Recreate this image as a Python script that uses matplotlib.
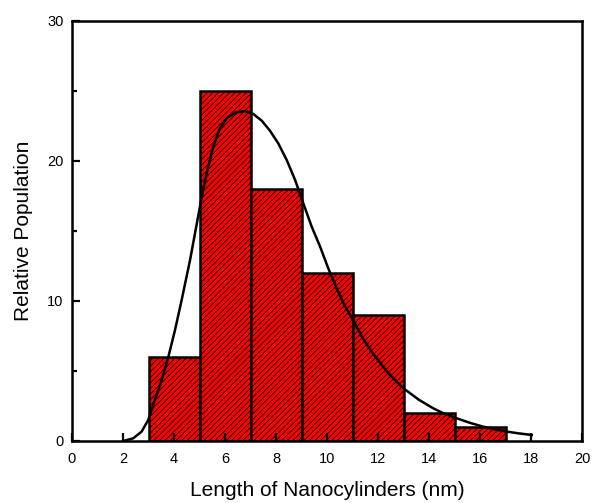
import matplotlib
matplotlib.use("Agg")
import matplotlib.pyplot as plt
from matplotlib.ticker import MultipleLocator

plt.rcParams['font.family'] = ['Liberation Sans', 'DejaVu Sans']
plt.rcParams['hatch.linewidth'] = 0.6

# Histogram data
bin_left = [3, 5, 7, 9, 11, 13, 15]
bin_width = 2
counts = [6, 25, 18, 12, 9, 2, 1]

# Fitted distribution curve
curve_x = [2.01, 2.4, 2.73, 2.99, 3.25, 3.52, 3.78, 4.04, 4.30, 4.63, 4.82,
           5.09, 5.28, 5.54, 5.80, 6.07, 6.39, 6.78, 7.11, 7.44, 7.76, 8.09,
           8.42, 8.75, 9.07, 9.40, 9.73, 10.05, 10.38, 10.7, 11.03, 11.4, 11.8,
           12.4, 13.0, 13.6, 14.17, 14.6, 15.09, 15.6, 16.13, 16.6, 17.05,
           17.5, 18.03]
curve_y = [0.0, 0.19, 0.67, 1.5, 2.93, 4.36, 6.02, 7.93, 10.07, 12.93, 14.8,
           17.45, 19.12, 21.02, 22.33, 23.05, 23.45, 23.57, 23.36, 22.88, 22.17,
           21.26, 20.07, 18.64, 16.98, 15.31, 13.88, 12.33, 10.9, 9.65, 8.64,
           7.35, 6.26, 4.85, 3.76, 2.95, 2.33, 1.95, 1.62, 1.3, 1.02, 0.83, 0.67,
           0.55, 0.43]

fig = plt.figure(figsize=(5.92, 5.03), dpi=100)
ax = fig.add_axes([72/592, 1-441/503, (582-72)/592, (441-21)/503])

ax.bar(bin_left, counts, width=bin_width, align='edge', color='#ff0000',
       edgecolor='black', linewidth=1.8, hatch='//////', zorder=1)
ax.plot(curve_x, curve_y, color='black', linewidth=1.8, zorder=3,
        solid_joinstyle='round')

ax.set_xlim(0, 20)
ax.set_ylim(0, 30)
ax.xaxis.set_major_locator(MultipleLocator(2))
ax.yaxis.set_major_locator(MultipleLocator(10))
ax.yaxis.set_minor_locator(MultipleLocator(5))

for s in ax.spines.values():
    s.set_linewidth(1.8)

ax.tick_params(axis='both', which='major', direction='in', length=6, width=1.6,
               labelsize=10.5, top=False, right=False)
ax.tick_params(axis='x', which='major', pad=8)
ax.tick_params(axis='y', which='major', pad=6)
ax.tick_params(axis='y', which='minor', direction='in', length=3.5, width=1.6)

ax.set_xlabel('Length of Nanocylinders (nm)', fontsize=15, labelpad=11)
ax.set_ylabel('Relative Population', fontsize=15, labelpad=10)

fig.savefig('out.png', dpi=100)
